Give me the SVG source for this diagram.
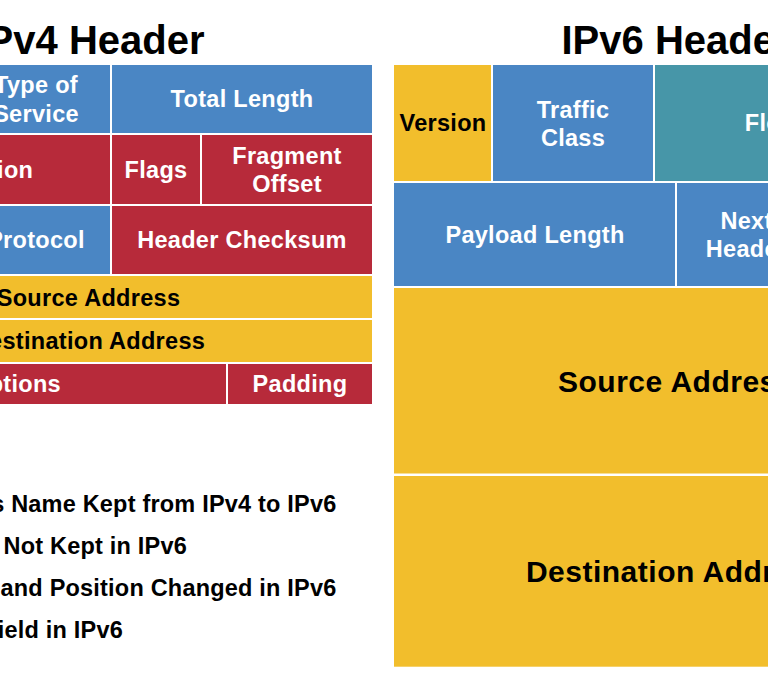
<svg xmlns="http://www.w3.org/2000/svg" width="768" height="678" viewBox="0 0 768 678">
<style>
text{font-family:"Liberation Sans",Arial,sans-serif;font-weight:bold;}
.c{text-anchor:middle;font-size:23.5px;letter-spacing:0.3px;}
.w{fill:#ffffff;}
.k{fill:#000000;}
.big{text-anchor:middle;font-size:30px;letter-spacing:0.5px;fill:#000000;}
.title{text-anchor:middle;font-size:40px;fill:#000000;}
.leg{text-anchor:end;font-size:23.5px;letter-spacing:0.2px;fill:#000000;}
.blue{fill:#4A86C4;}
.red{fill:#B72A3A;}
.yel{fill:#F2BE2C;}
.teal{fill:#4796A8;}
</style>
<rect x="0" y="0" width="768" height="678" fill="#ffffff"/>

<g id="titles">
<text class="title" x="90" y="53.5">IPv4 Header</text>
<text class="title" x="676" y="53.5">IPv6 Header</text>
</g>

<g id="ipv4">
<g id="v4-tos"><rect class="blue" x="-38" y="65" width="148" height="68"/>
<text class="c w" x="36" y="93.3">Type of</text><text class="c w" x="36" y="121.5">Service</text></g>
<g id="v4-total-length"><rect class="blue" x="112" y="65" width="260" height="68"/>
<text class="c w" x="242" y="107.4">Total Length</text></g>

<g id="v4-identification"><rect class="red" x="-195" y="135" width="305" height="69"/>
<text class="c w" x="-42" y="178">Identification</text></g>
<g id="v4-flags"><rect class="red" x="112" y="135" width="88" height="69"/>
<text class="c w" x="156" y="178">Flags</text></g>
<g id="v4-fragment-offset"><rect class="red" x="202" y="135" width="170" height="69"/>
<text class="c w" x="287" y="164">Fragment</text><text class="c w" x="287" y="191.7">Offset</text></g>

<g id="v4-protocol"><rect class="blue" x="-38" y="206" width="148" height="68"/>
<text class="c w" x="36" y="248.4">Protocol</text></g>
<g id="v4-header-checksum"><rect class="red" x="112" y="206" width="260" height="68"/>
<text class="c w" x="242" y="248.4">Header Checksum</text></g>

<g id="v4-source"><rect class="yel" x="-195" y="276" width="567" height="42"/>
<text class="c k" x="88.5" y="305.5">Source Address</text></g>
<g id="v4-destination"><rect class="yel" x="-195" y="320" width="567" height="42"/>
<text class="c k" x="88.5" y="349.4">Destination Address</text></g>

<g id="v4-options"><rect class="red" x="-195" y="364" width="421" height="40"/>
<text class="c w" x="15.5" y="392.2">Options</text></g>
<g id="v4-padding"><rect class="red" x="228" y="364" width="144" height="40"/>
<text class="c w" x="300" y="392.2">Padding</text></g>
</g>

<g id="ipv6">
<g id="v6-version"><rect class="yel" x="394" y="65" width="97" height="116"/>
<text class="c k" x="443" y="131.4">Version</text></g>
<g id="v6-traffic-class"><rect class="blue" x="493" y="65" width="160" height="116"/>
<text class="c w" x="573" y="118.3">Traffic</text><text class="c w" x="573" y="145.7">Class</text></g>
<g id="v6-flow-label"><rect class="teal" x="655" y="65" width="303" height="116"/>
<text class="c w" x="807" y="131">Flow Label</text></g>

<g id="v6-payload-length"><rect class="blue" x="394" y="183" width="281" height="103"/>
<text class="c w" x="535" y="242.8">Payload Length</text></g>
<g id="v6-next-header"><rect class="blue" x="677" y="183" width="139" height="103"/>
<text class="c w" x="746.5" y="229">Next</text><text class="c w" x="746.5" y="256.7">Header</text></g>

<g id="v6-source"><rect class="yel" x="394" y="288" width="564" height="185.5"/>
<text class="big" x="676" y="391.5">Source Address</text></g>
<g id="v6-destination"><rect class="yel" x="394" y="476" width="564" height="190.7"/>
<text class="big" x="676" y="582.3">Destination Address</text></g>
</g>

<g id="legend">
<text class="leg" x="336.5" y="511.7">Field's Name Kept from IPv4 to IPv6</text>
<text class="leg" x="187" y="554">Fields Not Kept in IPv6</text>
<text class="leg" x="336.5" y="596">Name and Position Changed in IPv6</text>
<text class="leg" x="123" y="638">New Field in IPv6</text>
</g>
</svg>
